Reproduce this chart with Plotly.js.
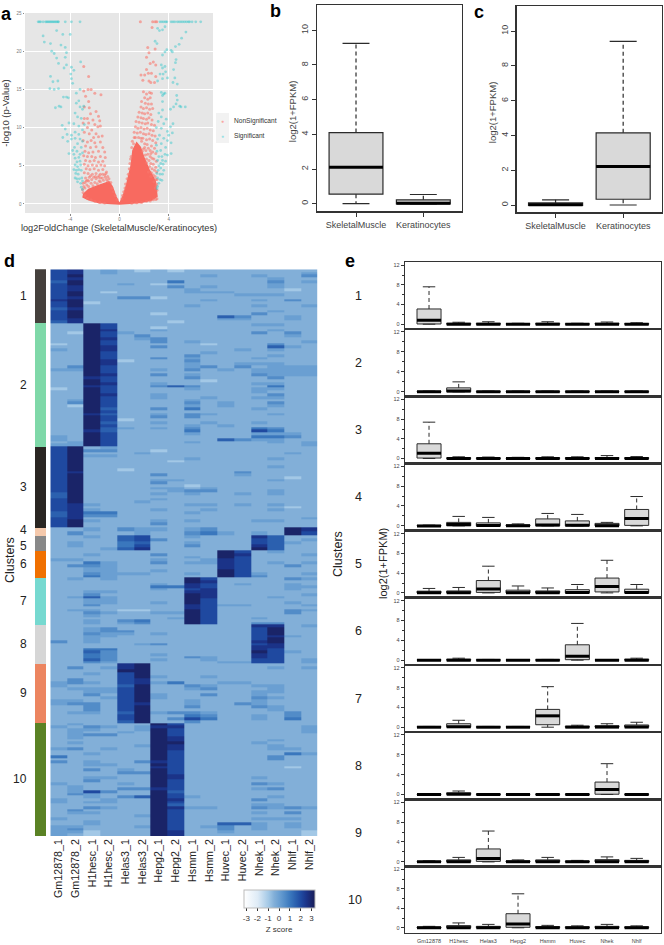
<!DOCTYPE html>
<html><head><meta charset="utf-8">
<script src="https://cdn.plot.ly/plotly-3.0.1.min.js"></script>
<style>html,body{margin:0;padding:0;background:#fff}#p{width:664px;height:945px}</style></head>
<body><div id="p"></div>
<script>
// ---------- a: volcano ----------
const redDenseX=[0,0.3,0.6,0.95,1.1,1.4,1.7,2.0,2.4,2.9,3.05,2.6,1.7,0.7,0,-0.7,-1.7,-2.5,-2.95,-2.9,-2.5,-1.9,-1.2,-0.85,-0.6,-0.3,0];
const redDenseY=[0,1.0,2.6,5.0,7.0,8.0,7.4,6.0,4.5,3.0,1.0,0.5,0.2,0.05,0,0.05,0.2,0.55,0.9,1.3,1.9,2.3,2.7,2.9,2.3,1,0];
const redPts=[[1.7,23.85],[2.7,23.85],[2.9,23.85],[3.03,23.85],[2.65,23.1],[2.3,20.5],[2.4,19.8],[2.2,19.2],[2.9,20.3],[2.75,18.6],[2.5,18.4],[2.95,18.2],[2.2,17.6],[2.35,17.1],[1.75,16.9],[2.05,16.9],[2.6,17.1],[2.95,16.7],[1.9,16.2],[2.4,16.1],[2.55,15.9],[2.85,15.9],
[1.95,14.7],[2.2,14.4],[2.45,14.6],[2.6,14.5],[2.05,13.9],[2.3,13.7],[2.5,13.9],[1.8,13.4],[2.1,13.2],[2.35,13.1],[2.6,13.1],[1.75,12.7],[1.95,12.5],[2.2,12.6],[2.45,12.4],[2.7,12.5],[1.6,12.0],[1.85,11.9],[2.05,11.8],[2.3,11.9],[2.55,11.7],[1.5,11.4],[1.75,11.3],[1.95,11.2],[2.2,11.1],[2.4,11.3],[2.65,11],[1.35,10.8],[1.6,10.7],[1.85,10.6],[2.1,10.5],[2.3,10.6],[2.6,10.4],[2.85,10.3],[1.3,10.1],[1.5,9.9],[1.75,10],[2,9.8],[2.25,9.9],[2.5,9.7],[2.75,9.6],[1.2,9.4],[1.45,9.3],[1.7,9.4],[1.95,9.2],[2.15,9.1],[2.4,9.2],[2.65,9],[2.9,8.9],[1.2,8.7],[1.9,8.6],[2.2,8.4],[2.45,8.5],[2.7,8.3],[2.95,8],[2.25,7.8],[2.6,7.6],[2.85,7.3],[2.95,6.6],[2.7,6.8],[2.5,7],[3.0,5.6],[2.8,5.9],[2.95,4.8],[3.02,4.2],[3.05,3.2],[3.02,2.6],[3.05,1.8],[2.9,2.1],
[1.05,8.2],[1.3,8.7],[1.55,8.7],[1.8,8.2],[2.05,7.9],[1.95,7.2],[2.15,7.0],[2.35,7.3],[2.3,6.5],[2.1,6.4],[2.5,6.2],[2.65,6.0],[2.4,5.7],[2.2,5.4],[2.55,5.3],[2.75,5.2],[2.45,4.9],[2.65,4.6],[2.85,4.4],[2.6,4.1],[2.75,3.8],[2.9,3.6],[2.95,3.2],[2.2,5.9],[1.85,6.9],[0.95,6.2],[1.0,7.4],[0.85,5.3],[0.8,4.6],[0.72,3.9],[0.62,3.3],[0.5,2.6],[0.45,2.1],[0.35,1.6],[0.25,1.1],[0.2,0.7],[0.9,5.9],[1.15,7.9],[1.75,8.6],[2.55,6.6],[2.05,7.4],[3.05,0.7],[2.95,0.6],[2.75,0.55],[2.5,0.4],[2.2,0.35],[1.8,0.2],[1.4,0.15],[1,0.1],[2.98,2.4],[2.8,2.9],[2.55,3.6],[2.35,4.2],
[-2.9,18],[-2.5,16.7],[-2.55,15],[-2.3,15],[-2.9,14.8],[-2.0,14.5],[-2.75,14.1],[-1.5,14.3],[-2.5,13.4],[-2.85,12.7],[-2.45,12.6],[-1.9,12.1],[-2.35,11.8],[-1.7,11.5],[-2.85,11.2],[-2.6,11.2],[-2.15,11],[-1.6,10.9],[-2.95,10.6],[-2.5,10.6],[-2.0,10.4],[-1.75,10.1],[-2.6,10],[-2.25,9.7],[-1.55,10.2],[-2.85,9.4],[-2.45,9.2],[-1.9,9.2],[-2.1,8.7],[-1.7,8.8],[-1.4,8.9],[-2.95,8.3],[-2.6,8.1],[-2.3,8.3],[-2.0,8.0],[-1.55,8.1],[-2.75,7.6],[-2.35,7.4],[-1.9,7.5],[-1.35,7.4],[-2.8,6.9],[-2.5,6.7],[-2.15,6.8],[-1.7,6.9],[-1.2,6.8],[-2.9,6.3],[-2.6,6.2],[-2.25,6.2],[-1.95,6.1],[-1.55,6.2],[-1.15,6.1],[-2.75,5.7],[-2.4,5.6],[-2.05,5.7],[-1.7,5.5],[-1.35,5.6],[-2.85,5.2],[-2.55,5.0],[-2.2,5.1],[-1.85,5.0],[-1.5,5.1],[-1.2,5.0],[-2.7,4.6],[-2.4,4.5],[-2.05,4.6],[-1.7,4.4],[-1.35,4.5],[-1.05,4.2],[-2.85,4.1],[-2.55,4.0],[-2.2,3.9],[-1.9,4.0],[-1.55,3.9],[-1.2,3.8],[-0.95,3.6],[-2.75,3.4],[-2.45,3.5],[-2.1,3.5],[-1.75,3.5],[-1.4,3.4],[-2.8,2.8],[-2.5,3.0],[-2.9,2.3],
[-2.95,2.7],[-2.65,2.5],[-2.3,2.7],[-2.0,2.8],[-1.65,3],[-1.3,3.1],[-1.05,3.2],[-0.85,3.3],[-2.6,3.1],[-2.25,3.2],[-1.9,3.3],[-1.55,3.4],[-1.15,3.5],[-2.35,3.7],[-1.95,3.6],[-1.65,3.7],[-1.35,3.9],[-1.1,4.0],[-2.7,3.0],[-3.0,1.9],[-2.95,1.5],[-2.8,2.1],[-2.5,2.3],[-0.7,2.8],[-0.6,2.1],[-0.48,1.6],[-0.35,1.1],[-0.2,0.6],[-0.95,2.95],[-2.8,1.1],[-2.6,0.75],[-2.3,0.55],[-2,0.35],[-1.6,0.2],[-1.2,0.12],[-1.55,2.9],[-1.8,2.65],[-2.15,2.4]];
const tealPts=[[-6.6,23.85],[-6.5,23.85],[-6.4,23.85],[-6.2,23.85],[-6.0,23.85],[-5.9,23.85],[-5.8,23.85],[-5.7,23.85],[-5.6,23.85],[-5.5,23.85],[-5.4,23.85],[-5.3,23.85],[-5.2,23.85],[-5.1,23.85],[-5.0,23.85],[-4.95,23.85],[-4.4,23.85],[-3.9,23.85],[-3.2,23.85],
[-5.1,22.7],[-6.2,22],[-4.0,22.2],[-4.6,22.2],[-6.1,21.2],[-5.6,21],[-4.75,20.8],[-4.4,20.5],[-5.5,20],[-5.3,19.7],[-4.3,19.8],[-4.4,19.2],[-5.1,19.1],[-3.15,18.6],[-4.95,18.4],[-4.3,18.2],[-3.9,17.9],[-4.5,17.8],[-3.7,17.5],[-3.95,17],[-5.6,16.7],[-3.9,16.4],[-3.8,15.8],[-5.4,16],[-5.0,16.1],[-5.65,15.1],[-5.3,15],[-4.95,15.1],[-3.2,15],[-3.5,14.5],[-4.55,14],[-4.3,14],[-4.15,13.9],[-3.3,13.5],[-3.5,13.2],[-4.9,12.8],[-5.2,12.6],[-4.75,12.7],[-3.2,12.7],[-2.9,12.8],[-3.0,12.4],[-3.6,11.9],[-3.4,11.4],[-3.1,11.2],[-4.1,10.6],[-3.7,10.5],[-4.65,10.3],[-3.3,10.2],[-2.85,10.4],[-4.4,9.8],[-3.6,9.4],[-3.0,9.7],[-4.25,9.1],[-3.9,9.0],[-3.3,9.1],[-4.6,8.7],[-3.9,8.5],[-3.6,8.6],[-3.2,8.5],[-4.2,8.2],[-3.4,7.9],[-3.0,8.2],[-3.65,7.4],[-3.1,7.4],[-3.8,7.0],[-3.45,6.9],[-4.1,6.6],[-3.7,6.5],[-3.2,6.5],[-3.0,6.7],[-3.6,6],[-3.3,6.1],[-3.45,5.5],[-3.2,5.6],[-3.6,5.1],[-3.4,4.9],[-3.15,5.1],[-3.7,4.5],[-3.5,4.4],[-3.3,4.5],[-3.1,4.4],[-3.55,4.0],[-3.35,3.9],[-3.6,3.4],[-3.45,3.3],[-3.25,3.3],[-3.05,3.4],[-3.4,2.9],[-3.15,2.7],[-3.0,3],[-3.1,2.2],[-3.0,1.9],
[3.3,23.85],[3.45,23.85],[3.6,23.85],[3.75,23.85],[3.85,23.85],[4.2,23.85],[4.35,23.85],[4.5,23.85],[4.7,23.85],[4.85,23.85],[5.0,23.85],[5.15,23.85],[5.3,23.85],[5.45,23.85],[5.6,23.85],[5.7,23.85],[5.9,23.85],[6.2,23.85],[6.6,23.85],
[3.1,23],[3.25,22.7],[3.5,22.8],[3.7,23.2],[5.4,22.5],[5.05,21.7],[2.9,21.3],[3.05,21],[4.85,20.9],[4.55,20.6],[3.85,20.2],[4.2,20.1],[4.3,19.9],[3.5,19.5],[3.7,19.9],[4.6,18.9],[4.55,18.5],[3.4,18.2],[3.7,18.0],[3.5,17.8],[4.4,17.6],[3.75,17.3],[3.55,17],[3.3,17],[3.9,16.5],[3.5,16.4],[3.1,16.1],[4.5,16.5],[4.35,15.9],[4.7,15.7],[3.4,14.6],[3.6,14.4],[3.7,14.5],[3.5,14.2],[4.65,14.2],[3.5,13.4],[4.7,13.6],[4.6,13.1],[4.4,12.7],[4.9,12.8],[5.35,12.7],[5.0,12.7],[4.15,12.4],[3.5,12.3],[3.2,11.9],[3.4,11.4],[3.8,11.1],[3.15,10.8],[3.6,10.5],[4.35,10.5],[4.15,10.1],[3.4,9.9],[3.0,10],[3.9,9.5],[4.3,9.3],[4.0,9],[3.25,9],[3.6,8.6],[3.1,8.5],[3.9,8.3],[4.2,8.0],[3.4,7.9],[3.0,7.7],[3.75,7.4],[3.35,7],[3.05,6.9],[3.7,6.5],[4.2,6.6],[3.45,6.2],[3.2,6.2],[3.9,6.4],[3.5,5.7],[3.1,5.7],[3.35,5.3],[3.2,5.0],[3.55,5.2],[3.75,5.6],[3.35,4.7],[3.15,4.4],[3.6,4.4],[3.05,4],[3.3,3.9],[3.5,3.9],[3.1,3.4],[3.3,3.2],[3.45,3.1],[3.2,2.7],[3.1,2.3],[3.05,2.0]];

// ---------- b, c: two-box panels ----------
const tissues=['SkeletalMuscle','Keratinocytes'];
const bUpper=[9.25,0.53], bQ3=[4.1,0.22], bMedian=[2.1,0.02], bQ1=[0.55,-0.02], bLower=[0,-0.02];
const cUpper=[0.3,9.42], cQ3=[0.12,4.15], cMedian=[0.02,2.22], cQ1=[-0.02,0.33], cLower=[-0.02,0];

// ---------- d: heatmap ----------
const sampleLabels=['Gm12878_1','Gm12878_2','H1hesc_1','H1hesc_2','Helas3_1','Helas3_2','Hepg2_1','Hepg2_2','Hsmm_1','Hsmm_2','Huvec_1','Huvec_2','Nhek_1','Nhek_2','Nhlf_1','Nhlf_2'];
const clusterNames=['1','2','3','4','5','6','7','8','9','10'];
const clusterSizes=[54,123,81,8,15,27,47,39,59,113];
const clusterColors=['#45403c','#7fd8a8','#2a2622','#f5c9ac','#888888','#f07000','#76d9d0','#d6d6d6','#ec8560','#5a8224'];
// levels: 0..8 stand for z = -1 .. 3 in half steps
const heatCluster1=[[6,7,1,2,1,0,1,0,1,1,1,1,1,1,1,1],[6,7,1,2,1,1,1,1,1,1,1,1,1,1,1,2],[6,8,1,1,1,1,1,1,1,2,1,1,2,1,1,3],[6,7,1,1,1,1,1,1,1,1,1,1,1,2,1,1],[5,8,1,1,1,1,1,4,1,1,1,1,1,3,1,2],[6,8,1,1,2,1,0,1,1,1,1,1,1,2,1,1],[6,7,1,1,1,1,1,3,1,2,1,1,1,2,1,1],[6,7,1,1,1,1,1,1,2,1,1,1,1,1,0,1],[6,8,1,0,1,1,1,1,2,2,2,1,1,1,1,1],[6,8,1,1,1,1,1,1,1,1,1,2,2,2,1,1],[6,7,1,1,3,3,0,1,1,1,1,1,1,1,1,1],[7,8,1,1,1,1,1,1,1,2,1,1,2,1,3,1],[6,8,0,1,1,1,1,1,1,1,1,1,1,1,1,1],[6,8,1,1,1,1,1,1,2,1,1,1,2,1,1,2],[5,7,1,1,1,1,1,1,1,1,1,1,1,1,1,1],[6,8,1,1,1,1,1,1,1,1,1,1,1,2,1,1],[6,8,1,1,1,1,0,1,1,1,1,1,3,1,1,1],[6,8,1,1,1,1,1,1,1,1,5,3,1,1,2,1],[6,7,1,1,1,1,1,1,1,1,2,2,1,1,2,1],[5,7,1,1,1,1,1,0,1,1,1,1,1,1,1,1]];
const heatCluster2=[[1,1,8,6,1,1,1,1,1,1,1,1,2,2,1,1],[1,1,8,6,1,1,0,1,1,1,1,1,1,1,1,1],[1,1,8,7,1,1,2,1,1,1,1,1,1,2,1,1],[1,0,8,6,2,1,1,1,1,1,1,1,3,1,3,1],[1,1,8,6,1,3,1,1,1,1,1,1,1,1,2,1],[1,1,8,7,1,2,3,1,1,1,1,1,1,1,1,1],[1,1,8,6,1,1,3,1,2,1,1,1,1,1,1,2],[0,1,8,6,1,1,1,1,1,0,1,1,1,3,1,1],[1,1,8,7,1,1,3,1,1,1,1,1,1,5,2,1],[2,1,8,7,1,1,1,1,1,1,1,2,1,2,1,1],[1,1,8,6,1,1,1,1,1,2,1,1,1,1,1,1],[1,1,8,6,1,1,1,1,3,1,1,1,1,2,1,1],[1,1,8,6,1,1,3,1,2,1,1,1,2,1,1,1],[1,1,8,7,0,1,1,1,3,1,1,1,1,1,1,1],[1,1,8,7,1,1,1,1,2,1,1,2,2,2,1,1],[1,3,8,6,1,1,1,1,2,3,1,3,1,2,2,2],[2,2,8,6,1,1,2,1,3,1,2,1,2,2,2,2],[1,1,8,6,1,1,1,1,1,1,1,1,2,2,2,2],[1,1,8,7,1,1,3,1,2,1,1,1,3,2,2,2],[1,1,7,6,1,1,1,1,3,1,1,1,1,3,1,1],[1,1,8,6,1,1,1,1,1,0,1,1,1,1,1,1],[1,1,8,7,1,1,2,1,1,1,1,1,2,2,1,1],[1,1,7,6,1,1,3,5,3,1,1,1,1,4,1,1],[0,1,8,6,1,1,1,1,2,1,1,1,2,2,1,1],[1,1,8,6,1,1,1,1,1,1,1,1,2,1,1,1],[1,1,8,7,1,1,2,1,1,1,1,1,1,3,1,1],[1,1,8,6,1,1,2,1,1,2,1,1,2,2,1,1],[1,2,8,6,1,1,1,1,2,1,1,1,1,1,1,1],[1,3,8,6,1,1,1,1,3,1,2,1,1,3,1,1],[1,0,8,6,1,1,1,1,2,1,2,1,1,2,1,1],[1,1,8,5,1,1,3,1,4,1,1,1,2,1,1,1],[1,1,8,6,1,1,1,1,1,1,1,1,1,1,1,1],[1,1,7,5,1,1,2,1,3,2,1,1,1,2,1,1],[1,1,8,6,1,1,3,1,3,1,1,1,1,1,1,1],[1,1,8,6,0,1,1,1,1,1,1,1,1,1,1,1],[1,1,8,5,1,1,2,1,1,2,1,1,2,1,1,1],[1,1,8,6,1,1,1,1,2,1,2,1,1,1,1,1],[1,1,8,5,2,1,2,1,3,1,1,1,4,3,1,1],[1,1,7,5,1,1,1,1,4,1,1,1,6,4,1,1],[1,1,8,6,1,1,1,1,2,1,1,1,2,2,2,1],[2,1,8,6,1,1,1,1,1,1,1,1,4,4,3,1],[2,1,8,6,1,1,1,1,1,1,5,3,2,2,1,1],[1,2,8,6,1,1,1,1,2,1,1,1,1,2,1,2],[2,2,8,6,1,1,1,1,1,1,1,1,1,1,1,2]];
const heatCluster3=[[6,8,1,2,1,1,1,1,1,1,1,1,1,1,1,1],[6,8,3,3,1,1,0,1,1,1,1,1,1,1,1,1],[6,8,1,1,1,2,1,1,1,1,1,1,1,1,2,1],[6,8,2,2,1,1,1,1,1,1,1,1,1,1,1,1],[6,8,1,1,1,1,1,1,2,1,1,1,1,2,1,1],[6,8,1,1,1,1,1,0,1,1,1,1,1,1,1,1],[6,8,1,1,1,1,1,1,1,1,1,1,1,1,1,1],[6,8,1,1,1,1,1,1,1,1,1,1,1,2,1,1],[6,8,1,1,0,1,1,1,1,1,1,1,1,1,1,1],[6,7,1,1,1,1,1,1,1,1,1,3,1,1,1,1],[6,8,1,1,1,1,3,1,1,1,1,2,1,1,1,1],[6,8,1,1,1,1,1,1,1,1,1,1,1,1,0,1],[6,8,1,1,1,1,2,2,1,1,1,1,1,2,1,1],[6,8,1,1,1,1,3,1,1,1,1,1,1,1,1,1],[6,8,1,1,1,1,1,1,0,1,1,1,1,1,1,1],[6,8,1,1,1,1,2,2,1,2,1,1,1,1,1,1],[6,8,1,1,1,1,1,2,3,3,1,1,1,2,1,1],[5,8,1,1,1,1,2,1,2,1,1,2,1,2,1,1],[5,8,1,1,1,1,1,1,1,1,1,1,1,1,1,1],[6,8,1,1,1,1,2,1,1,1,1,1,1,1,1,1],[6,8,1,1,1,2,1,1,1,1,1,1,1,1,1,1],[6,7,2,1,1,1,1,1,2,2,1,2,1,2,1,1],[6,7,1,1,1,1,1,1,1,1,1,1,1,1,0,1],[6,7,2,1,1,1,2,1,1,2,1,1,1,2,1,1],[5,7,4,4,1,1,1,1,2,1,1,1,1,1,1,1],[5,7,3,3,1,1,1,1,1,1,1,1,1,1,1,1],[6,7,1,1,1,1,1,1,1,1,1,1,1,1,1,2],[6,8,2,1,1,1,2,1,2,1,1,1,2,2,1,1],[6,8,1,1,1,1,3,1,1,1,1,1,1,1,1,1],[6,8,1,1,1,1,1,1,1,1,1,1,1,1,1,1]];
const heatCluster4=[[1,1,2,1,3,2,2,1,2,3,1,1,1,1,8,7],[1,3,1,1,1,2,1,1,3,4,2,1,2,1,8,6]];
const heatCluster5=[[1,1,2,1,5,6,1,1,2,1,1,1,7,5,1,1],[1,1,1,1,5,6,3,1,1,1,1,1,6,5,1,2],[1,2,1,1,4,5,1,1,2,1,1,1,6,5,2,1],[1,2,1,1,4,6,1,1,3,1,1,1,7,5,1,1],[1,1,1,2,5,7,1,1,1,1,1,1,8,5,1,1]];
const heatCluster6=[[1,1,1,1,1,1,1,1,1,1,8,6,1,2,1,1],[1,1,2,1,1,1,3,1,1,1,8,7,1,1,1,2],[1,1,1,1,1,1,1,1,2,1,8,6,1,1,1,1],[2,2,1,1,1,1,2,1,1,2,7,6,1,1,1,1],[1,1,4,2,1,1,3,1,2,2,7,6,1,2,1,2],[1,3,3,2,1,1,1,1,1,1,7,6,1,1,3,1],[1,1,2,2,1,1,1,1,1,1,7,6,1,1,1,1],[1,1,2,2,1,1,2,1,1,1,8,6,1,1,1,1],[1,1,3,2,2,2,1,1,2,1,8,6,2,1,1,2],[1,1,4,2,1,1,1,1,1,1,8,6,3,1,1,1]];
const heatCluster7=[[1,2,1,2,1,1,1,1,8,6,1,1,1,1,3,2],[1,1,1,1,1,1,1,1,8,7,1,1,1,1,1,1],[1,1,1,1,1,1,2,1,7,6,1,2,1,1,2,1],[1,1,1,1,1,1,4,4,7,6,1,1,1,1,2,2],[1,1,1,1,1,1,2,1,6,7,1,1,1,1,2,1],[1,1,2,2,1,1,1,1,7,7,1,1,1,1,1,1],[1,1,3,1,1,1,1,1,8,7,1,1,1,1,1,2],[1,2,5,2,1,1,1,1,8,7,1,1,1,2,1,1],[1,1,2,2,1,1,1,1,8,6,1,1,1,1,1,1],[1,1,2,2,1,1,2,1,8,6,1,1,1,1,2,1],[1,1,3,1,1,1,1,1,7,6,2,2,1,1,1,2],[1,1,1,1,1,1,1,1,7,6,1,1,1,1,1,1],[1,2,2,1,0,0,1,1,8,6,1,1,1,1,3,2],[1,1,3,2,1,1,2,2,8,6,1,1,1,1,3,1],[1,1,2,1,1,1,1,1,8,6,1,1,1,1,1,1],[1,1,1,1,1,1,1,2,8,6,1,1,2,1,1,1],[1,1,2,1,3,4,1,1,8,6,1,1,1,1,1,1],[1,1,2,1,2,3,1,1,8,6,1,1,3,3,1,1]];
const heatCluster8=[[1,1,1,1,1,1,1,1,1,1,1,1,7,7,1,2],[1,1,2,3,1,1,1,1,1,1,1,1,6,8,1,1],[1,1,2,3,3,1,1,1,1,1,1,1,6,8,1,1],[1,1,3,2,2,1,2,1,1,1,1,1,6,8,1,1],[1,1,2,2,1,1,1,1,1,1,1,1,6,7,2,1],[1,1,2,1,1,1,1,1,1,1,1,1,6,8,1,1],[3,1,2,1,1,1,1,1,1,1,1,1,7,8,1,1],[1,1,1,1,1,2,3,1,1,1,1,1,6,7,1,1],[1,1,1,1,1,1,1,1,1,1,1,1,7,7,1,1],[1,1,4,4,1,1,1,1,1,1,1,1,7,6,1,1],[1,1,5,3,1,1,1,1,1,1,1,1,8,6,2,1],[1,1,4,3,1,1,2,1,1,1,1,1,7,6,1,1],[1,1,4,3,1,1,1,1,3,2,1,1,7,6,1,1],[1,1,5,3,1,1,2,1,1,2,1,1,6,6,1,2],[1,1,3,2,1,1,1,1,1,1,2,2,6,6,1,2]];
const heatCluster9=[[1,1,1,1,7,8,1,1,1,1,1,1,1,1,1,1],[1,3,1,2,7,8,1,1,1,1,1,1,1,2,1,2],[1,1,1,1,8,8,1,1,1,1,1,1,1,1,1,1],[1,1,2,1,6,8,1,1,1,1,1,1,1,1,1,1],[1,1,1,1,6,8,2,1,1,2,1,1,1,1,1,1],[1,3,1,1,6,7,1,1,1,1,1,1,1,1,1,1],[2,3,2,1,6,7,2,4,1,1,2,2,1,1,1,1],[2,1,1,1,5,8,1,1,3,2,1,1,2,2,1,1],[1,2,2,2,6,8,1,1,2,3,1,1,1,2,1,1],[1,1,2,2,6,8,1,1,1,1,1,1,2,2,1,1],[1,1,3,1,6,8,2,1,1,3,1,1,2,1,1,1],[1,1,1,2,6,8,2,1,1,1,1,1,3,2,1,1],[2,2,1,1,6,8,1,1,2,1,1,1,2,1,1,1],[2,3,3,1,6,7,1,1,2,1,1,3,2,1,1,1],[1,1,3,1,6,8,1,1,3,1,1,1,3,2,1,1],[1,1,3,1,6,8,1,1,1,1,1,1,1,2,1,1],[1,2,2,1,5,8,2,3,3,2,1,1,1,1,3,1],[1,1,1,1,6,8,1,1,4,3,1,1,2,1,3,1],[1,1,1,1,6,8,1,3,6,4,1,1,2,1,4,1],[1,1,1,1,5,8,1,1,3,1,1,1,1,1,1,1]];
const heatCluster10=[[1,2,1,1,1,1,8,6,1,1,1,1,1,1,1,1],[2,1,3,2,1,2,7,7,1,1,1,1,1,1,1,2],[1,2,2,1,1,2,8,6,1,1,1,1,1,1,1,2],[1,2,1,1,2,1,8,6,1,1,1,1,1,1,1,2],[1,2,3,3,1,1,8,6,1,1,1,1,1,1,1,1],[1,2,1,1,1,1,8,7,1,1,1,1,1,1,1,1],[1,1,1,1,1,1,8,7,1,1,1,1,1,2,1,1],[1,2,1,1,1,1,8,8,1,1,1,1,2,1,1,1],[1,1,1,1,1,2,8,7,1,1,1,1,1,2,1,1],[2,3,1,2,1,1,8,7,1,1,1,1,1,2,2,1],[1,1,1,1,1,1,8,6,1,1,1,1,1,1,1,1],[1,1,2,1,1,1,8,6,1,1,1,1,1,1,4,2],[4,1,1,1,1,1,8,6,1,1,1,1,1,3,1,1],[1,1,1,1,1,1,8,6,1,1,1,1,1,3,1,1],[3,1,2,1,1,3,7,6,1,1,1,1,1,1,1,1],[1,1,2,2,1,1,8,6,1,1,1,1,1,1,1,1],[1,1,1,1,1,1,7,6,1,1,1,1,1,1,0,1],[1,1,3,1,2,1,8,6,1,1,1,1,1,1,1,1],[1,1,1,1,3,3,8,6,1,1,1,1,1,1,1,1],[1,1,1,1,1,1,8,7,1,1,1,1,1,1,1,1],[1,1,2,2,1,1,8,7,1,1,1,1,2,1,1,1],[1,1,3,1,1,1,8,6,1,1,1,1,1,1,1,1],[2,1,1,1,2,1,8,6,1,1,1,1,3,2,1,1],[1,2,1,1,1,1,8,6,1,1,1,1,1,1,1,1],[1,2,1,1,3,3,7,6,1,1,1,1,2,3,1,1],[1,2,6,3,1,1,8,5,1,1,1,1,1,1,1,1],[1,3,2,1,1,1,8,6,1,1,1,1,1,1,1,1],[1,1,2,1,3,5,8,6,2,1,1,1,1,2,1,1],[2,1,1,2,1,1,8,7,1,1,1,1,3,1,1,1],[2,1,2,2,1,1,8,6,1,1,1,1,1,1,1,1],[1,1,1,1,1,1,8,5,1,1,1,1,2,2,1,1],[1,1,3,2,1,1,8,7,2,2,1,1,3,2,3,2],[1,3,1,1,1,1,8,6,1,1,1,1,1,1,1,1],[1,2,2,1,1,1,8,6,1,1,1,1,2,1,3,1],[1,1,1,1,1,2,8,6,1,1,1,1,1,1,1,1],[2,1,1,1,1,1,8,6,1,1,1,1,2,2,2,1],[1,1,2,1,1,1,8,6,1,1,1,1,1,1,1,1],[1,1,2,1,1,1,8,6,1,1,5,5,2,1,2,1],[2,2,1,1,1,2,8,6,1,2,3,1,2,1,2,1],[2,3,1,1,1,1,8,6,1,1,3,1,2,1,1,1],[2,2,0,1,1,1,8,7,1,1,2,1,1,1,1,0],[2,1,0,1,1,1,8,7,1,1,1,1,1,1,1,0]];
const heatClusters=[heatCluster1,heatCluster2,heatCluster3,heatCluster4,heatCluster5,heatCluster6,heatCluster7,heatCluster8,heatCluster9,heatCluster10];

// ---------- e: cell-line boxes, rows are [upper whisker, q3, median, q1] ----------
const cellLines=['Gm12878','H1hesc','Helas3','Hepg2','Hsmm','Huvec','Nhek','Nhlf'];
const eCluster1=[[7.6,3.1,0.8,0.05],[0.4,0.2,0.02,0],[0.5,0.2,0.02,0],[0.2,0.1,0.01,0],[0.5,0.2,0.02,0],[0.2,0.1,0.01,0],[0.45,0.2,0.02,0],[0.3,0.15,0.01,0]];
const eCluster2=[[0.15,0.1,0,0],[2,0.8,0.15,0],[0.15,0.1,0,0],[0.15,0.1,0,0],[0.15,0.1,0,0],[0.15,0.1,0,0],[0.15,0.1,0,0],[0.15,0.1,0,0]];
const eCluster3=[[7.4,3,1.1,0.1],[0.35,0.15,0.01,0],[0.3,0.12,0.01,0],[0.25,0.1,0.01,0],[0.35,0.15,0.01,0],[0.35,0.15,0.01,0],[0.6,0.2,0.01,0],[0.4,0.17,0.01,0]];
const eCluster4=[[0.15,0.1,0,0],[1.9,0.7,0.3,0],[1.7,0.6,0.1,0],[0.4,0.2,0.02,0],[2.5,1.4,0.2,0],[2.3,1,0.15,0],[0.7,0.5,0.05,0],[5.9,3.3,1.5,0.1]];
const eCluster5=[[0.9,0.35,0.05,0],[1.1,0.4,0.05,0],[5.4,2.5,0.8,0.1],[1.4,0.55,0.05,0],[1,0.4,0.05,0],[1.7,0.65,0.1,0],[6.6,3,1.3,0.2],[1.7,0.75,0.1,0]];
const eCluster6=[[0.1,0.08,0,0],[0.4,0.2,0.01,0],[0.15,0.1,0,0],[0.1,0.08,0,0],[0.15,0.1,0,0],[7.4,3.1,0.8,0.1],[0.1,0.08,0,0],[0.4,0.2,0.01,0]];
const eCluster7=[[0.15,0.1,0,0],[1.4,0.7,0.08,0],[0.15,0.1,0,0],[0.15,0.1,0,0],[8.2,3.6,2.3,0.5],[0.4,0.2,0.01,0],[0.7,0.3,0.02,0],[1,0.45,0.03,0]];
const eCluster8=[[0.15,0.1,0,0],[0.7,0.35,0.03,0],[0.1,0.08,0,0],[0.1,0.08,0,0],[0.1,0.08,0,0],[0.1,0.08,0,0],[6.2,2.5,1,0.05],[0.1,0.08,0,0]];
const eCluster9=[[0.2,0.1,0.01,0],[0.9,0.4,0.02,0],[6.2,2.6,0.7,0.1],[0.4,0.2,0.01,0],[0.9,0.4,0.02,0],[0.3,0.15,0.01,0],[1,0.45,0.02,0],[0.7,0.3,0.02,0]];
const eCluster10=[[0.3,0.15,0.01,0],[1,0.45,0.02,0],[0.7,0.3,0.02,0],[7,2.9,0.8,0.1],[0.5,0.25,0.01,0],[0.4,0.2,0.01,0],[0.7,0.3,0.02,0],[0.4,0.2,0.01,0]];
const eClusters=[eCluster1,eCluster2,eCluster3,eCluster4,eCluster5,eCluster6,eCluster7,eCluster8,eCluster9,eCluster10];

// ---------- helpers ----------
const W=664,H=945, FONT='"Liberation Sans",Arial,sans-serif';
const xd=(a,b)=>[a/W,b/W], yd=(t,b)=>[1-b/H,1-t/H];
const traces=[], layout={width:W,height:H,margin:{l:0,r:0,t:0,b:0},paper_bgcolor:'#fff',plot_bgcolor:'#fff',
  font:{family:FONT,color:'#333'},showlegend:false,hovermode:false,annotations:[],shapes:[]};
const note=(text,x,y,o={})=>layout.annotations.push(Object.assign({text,x,y,xref:'paper',yref:'paper',showarrow:false,
  xanchor:'center',yanchor:'middle',font:{size:12.5,color:'#222',family:FONT}},o));
const px=(x,y)=>[x/W,1-y/H];
const lab=(t,x,y,o)=>{const p=px(x,y);note(t,p[0],p[1],o);};

function boxes(xs,upper,q3,med,q1,lower,xa,ya,opt){
  const bw=opt.bw, cw=opt.cw;
  traces.push({type:'box',x:xs,q1:q1,median:med,q3:q3,lowerfence:q1,upperfence:q3,width:bw,xaxis:xa,yaxis:ya,
    fillcolor:'#d9d9d9',line:{color:'#2b2b2b',width:opt.lw},boxpoints:false,showlegend:false,whiskerwidth:0});
  const wx=[],wy=[],cx=[],cy=[],mx=[],my=[];
  xs.forEach((x,i)=>{
    wx.push(x,x,null,x,x,null); wy.push(q3[i],upper[i],null,q1[i],lower[i],null);
    cx.push(x-cw,x+cw,null,x-cw,x+cw,null); cy.push(upper[i],upper[i],null,lower[i],lower[i],null);
    mx.push(x-bw/2,x+bw/2,null); my.push(med[i],med[i],null);
  });
  traces.push({type:'scatter',mode:'lines',x:wx,y:wy,xaxis:xa,yaxis:ya,showlegend:false,line:{color:'#2b2b2b',width:opt.lw,dash:'4px,3px'}});
  traces.push({type:'scatter',mode:'lines',x:cx,y:cy,xaxis:xa,yaxis:ya,showlegend:false,line:{color:'#2b2b2b',width:opt.lw}});
  traces.push({type:'scatter',mode:'lines',x:mx,y:my,xaxis:xa,yaxis:ya,showlegend:false,line:{color:'#000',width:opt.mw}});
}

// ---------- panel a ----------
const RED='#F8766D', TEAL='#2CC5C9';
traces.push({type:'scatter',mode:'lines',x:redDenseX,y:redDenseY,fill:'toself',fillcolor:'#F86A60',line:{width:1.5,color:'#F86A60'},showlegend:false,xaxis:'x',yaxis:'y'});
traces.push({type:'scatter',mode:'markers',name:'NonSignificant',x:redPts.map(p=>p[0]),y:redPts.map(p=>p[1]),xaxis:'x',yaxis:'y',
  marker:{color:RED,size:3,opacity:0.6}});
traces.push({type:'scatter',mode:'markers',name:'Significant',x:tealPts.map(p=>p[0]),y:tealPts.map(p=>p[1]),xaxis:'x',yaxis:'y',
  marker:{color:TEAL,size:2.8,opacity:0.45}});
layout.xaxis={domain:xd(25,213),anchor:'y',range:[-7.67,7.6],tickvals:[-4,0,4],ticktext:['-4','0','4'],gridcolor:'#fff',gridwidth:1,zeroline:false,
  ticks:'outside',ticklen:1.5,tickcolor:'#888',tickfont:{size:4.5,color:'#777'},showline:false,title:{text:'log2FoldChange (SkeletalMuscle/Keratinocytes)',font:{size:9.2,color:'#333'},standoff:3}};
layout.yaxis={domain:yd(13,213),anchor:'x',range:[-1.18,25],tickvals:[0,5,10,15,20,25],gridcolor:'#fff',gridwidth:1,zeroline:false,
  ticks:'outside',ticklen:1.5,tickcolor:'#888',tickfont:{size:4.5,color:'#777'},showline:false,title:{text:'-log10 (p-Value)',font:{size:9.5,color:'#333'},standoff:5}};
layout.shapes.push({type:'rect',xref:'x domain',yref:'y domain',x0:0,x1:1,y0:0,y1:1,layer:'below',fillcolor:'#E6E6E6',line:{width:0}});
layout.shapes.push({type:'rect',xref:'paper',yref:'paper',x0:216/W,x1:229/W,y0:1-143/H,y1:1-113/H,layer:'below',fillcolor:'#f2f2f2',line:{width:0}});
lab('●',222.5,121,{font:{size:5,color:'#F9A8A2',family:FONT}});
lab('●',222.5,136,{font:{size:5,color:'#9BE0E2',family:FONT}});
lab('NonSignificant',232,121,{xanchor:'left',font:{size:6.6,color:'#333',family:FONT}});
lab('Significant',232,136,{xanchor:'left',font:{size:6.6,color:'#333',family:FONT}});

// ---------- panels b, c ----------
function twoBox(n,xdom,ydom,range,yr,u,q3,m,q1,l,titleX){
  const xa='x'+n, ya='y'+n;
  layout['xaxis'+n]={domain:xd(xdom[0],xdom[1]),anchor:ya,range:range,tickvals:[1,2],ticktext:tissues,showgrid:false,zeroline:false,
    showline:true,mirror:true,linecolor:'#333',linewidth:1.4,ticks:'outside',ticklen:4,tickcolor:'#333',tickfont:{size:9,color:'#444'}};
  layout['yaxis'+n]={domain:yd(ydom[0],ydom[1]),anchor:xa,range:yr,tickvals:[0,2,4,6,8,10],tickangle:-90,showgrid:false,zeroline:false,
    showline:true,mirror:true,linecolor:'#333',linewidth:1.4,ticks:'outside',ticklen:4,tickcolor:'#333',tickfont:{size:9,color:'#444'}};
  boxes([1,2],u,q3,m,q1,l,xa,ya,{bw:0.8,cw:0.2,lw:1.2,mw:3});
  lab('log2(1+FPKM)',titleX,(ydom[0]+ydom[1])/2+3,{textangle:-90,font:{size:9.5,color:'#444',family:FONT}});
}
twoBox(2,[317.3,461.7],[5,211.3],[0.425,2.57],[-0.44,11.46],bUpper,bQ3,bMedian,bQ1,bLower,292);
twoBox(3,[516.7,661.7],[6,212.3],[0.425,2.57],[-0.42,11.45],cUpper,cQ3,cMedian,cQ1,cLower,492);

// ---------- panel d ----------
const zMin=-3.27,zMax=3.27, stop=z=>(z-zMin)/(zMax-zMin);
const heatScale=[[-3.27,'#ffffff'],[-2,'#deebf6'],[-1,'#a3c8e6'],[-0.5,'#82afd8'],[0,'#6a9fd2'],[0.5,'#528cc8'],[1,'#3a77bd'],[1.5,'#2b60af'],[2,'#1f49a0'],[2.5,'#1b3388'],[3,'#1a2468'],[3.27,'#1a1f58']].map(s=>[stop(s[0]),s[1]]);
const zRows=[],yEdges=[0];let rowTop=0;const clusterMids=[];
heatClusters.forEach((rows,c)=>{
  rows.forEach((r,i)=>{zRows.push(r.map(v=>v*0.5-1));yEdges.push(rowTop+clusterSizes[c]*(i+1)/rows.length);});
  clusterMids.push(rowTop+clusterSizes[c]/2); rowTop+=clusterSizes[c];
});
traces.push({type:'heatmap',z:zRows,x:sampleLabels,y:yEdges,xaxis:'x4',yaxis:'y4',zmin:zMin,zmax:zMax,colorscale:heatScale,
  colorbar:{orientation:'h',x:279/W,xanchor:'center',y:1-890/H,yanchor:'top',len:70.6,lenmode:'pixels',thickness:17.7,thicknessmode:'pixels',
    tickvals:[-3,-2,-1,0,1,2,3],ticktext:['-3','-2','-1','0','1','2','3'],ticks:'outside',ticklen:3,tickwidth:1,tickcolor:'#333',tickfont:{size:8,color:'#333'},outlinewidth:1,outlinecolor:'#bbb',xpad:0,ypad:0,
    title:{text:'Z score',side:'bottom',font:{size:8,color:'#333'}}}});
layout.xaxis4={domain:xd(50.3,317.7),anchor:'y4',type:'category',showgrid:false,zeroline:false,ticks:'',tickangle:-90,tickfont:{size:10.7,color:'#222'},showline:false};
layout.yaxis4={domain:yd(269.3,836),anchor:'x4',range:[rowTop,0],showgrid:false,zeroline:false,showticklabels:false,ticks:'',showline:false};
clusterSizes.forEach((s,i)=>traces.push({type:'bar',x:['clusters'],y:[s],xaxis:'x5',yaxis:'y4',marker:{color:clusterColors[i],line:{width:0}},showlegend:false,width:1}));
layout.barmode='stack';
layout.xaxis5={domain:xd(35,46),anchor:'y4',type:'category',showgrid:false,zeroline:false,showticklabels:false,ticks:'',showline:false};
clusterNames.forEach((t,i)=>note(t,29/W,clusterMids[i],{xanchor:'right',yref:'y4',yshift:i===3?1.5:i===4?-3:0,font:{size:12,color:'#222',family:FONT}}));
lab('Clusters',10,560,{textangle:-90,font:{size:12.5,color:'#222',family:FONT}});

// ---------- panel e ----------
const eTops=[262.3,329,396.7,463.3,530.7,597.7,665,732,799.3,866.7,932.5];
const eX=cellLines.map((c,i)=>i+1);
eClusters.forEach((rows,i)=>{
  const n=6+i, xa='x'+n, ya='y'+n, last=i===eClusters.length-1;
  layout['xaxis'+n]={domain:xd(405,661),anchor:ya,range:[0.19,8.82],showgrid:false,zeroline:false,showline:true,mirror:true,linecolor:'#333',linewidth:1.3,
    ticks:'',showticklabels:last,tickvals:eX,ticktext:cellLines,tickfont:{size:5.5,color:'#444'},ticklabelstandoff:3};
  layout['yaxis'+n]={domain:yd(eTops[i],eTops[i+1]),anchor:xa,range:[-0.97,12.58],tickvals:[0,4,8,12],showgrid:false,zeroline:false,showline:true,mirror:true,linecolor:'#333',linewidth:1.3,
    ticks:'outside',ticklen:3,tickcolor:'#333',tickfont:{size:5.5,color:'#444'},minor:{dtick:2,ticks:'outside',ticklen:2,tickcolor:'#333'}};
  boxes(eX,rows.map(r=>r[0]),rows.map(r=>r[1]),rows.map(r=>r[2]),rows.map(r=>r[3]),rows.map(()=>0),xa,ya,{bw:0.81,cw:0.21,lw:1,mw:3});
  lab(clusterNames[i],364,(eTops[i]+eTops[i+1])/2,{xanchor:'right'});
});
lab('Clusters',338,554,{textangle:-90});
lab('log2(1+FPKM)',383,563,{textangle:-90,font:{size:11,color:'#222',family:FONT}});

// ---------- panel letters ----------
[['a',6,14],['b',275,11],['c',479,12],['d',9,261],['e',350,261]].forEach(l=>lab(l[0],l[1],l[2],{font:{size:18,color:'#000',family:FONT,weight:'bold'}}));

Plotly.newPlot('p',traces,layout,{displayModeBar:false,staticPlot:true});
</script></body></html>
